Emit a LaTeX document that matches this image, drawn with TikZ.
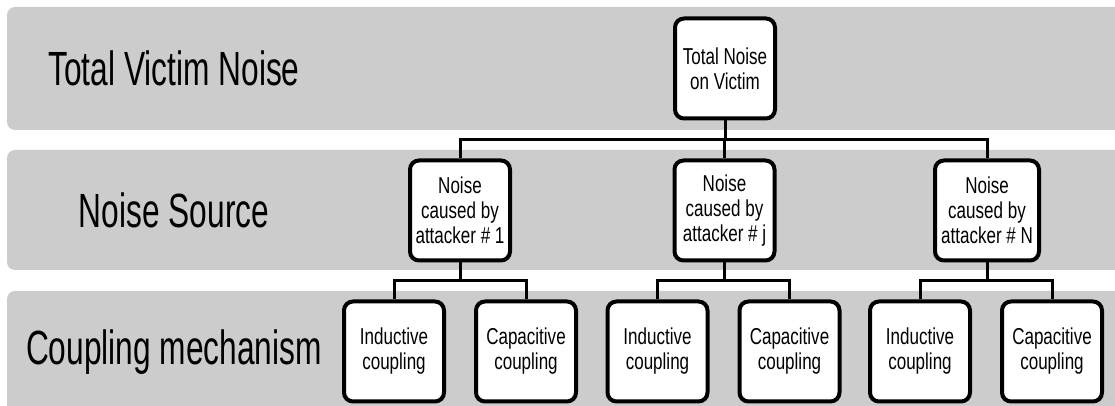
\documentclass[tikz,border=0pt]{standalone}
\usepackage{fontspec}
\setmainfont{Liberation Sans}[FakeStretch=0.74]
\newfontfamily\bandfont{Liberation Sans}[FakeStretch=0.66]
\usepackage{tikz}
\usetikzlibrary{calc}
\definecolor{bandgray}{RGB}{204,204,204}

\begin{document}
\begin{tikzpicture}[x=0.5pt,y=-0.5pt,
  band/.style={fill=bandgray,rounded corners=4pt},
  bandlabel/.style={font=\bandfont\fontsize{24}{28}\selectfont},
  box/.style={draw,line width=2pt,rounded corners=4.5pt,fill=white,align=center,
    minimum width=50pt,minimum height=50pt,inner sep=1pt,
    font=\fontsize{11.5}{12.5}\selectfont},
  link/.style={line width=1.5pt,
    to path={(\tikztostart) |- ($(\tikztostart)!0.5!(\tikztotarget)$) -| (\tikztotarget)}}]
\useasboundingbox (0,0) rectangle (1115,406);
\clip (0,0) rectangle (1115,406);
\fill[band] (7,7) rectangle (1135,130);
\fill[band] (7,150) rectangle (1135,270);
\fill[band] (7,291) rectangle (1135,425);

\node[bandlabel] (lvl1) at (174,68) {Total Victim Noise};
\node[bandlabel] (lvl2) at (174,210) {Noise Source};
\node[bandlabel] (lvl3) at (174,352) {Coupling mechanism};

\node[box] (total) at (725,68.5) {Total Noise\\on Victim};
\node[box] (src1) at (460,210.5) {Noise\\caused by\\attacker \# 1};
\node[box] (srcj) at (724.5,210.5) {Noise\\caused by\\attacker \# j};
\node[box,minimum width=52pt] (srcN) at (987,210.5) {Noise\\caused by\\attacker \# N};

\foreach \s/\x in {1/394,j/657.5,N/920}{
  \node[box] (ind\s) at (\x,351.5) {Inductive\\coupling};
  \node[box] (cap\s) at (\x+132,351.5) {Capacitive\\coupling};
  \draw[link] (src\s.south) to (ind\s.north);
  \draw[link] (src\s.south) to (cap\s.north);
  \draw[link] (total.south) to (src\s.north);
}
\end{tikzpicture}
\end{document}
